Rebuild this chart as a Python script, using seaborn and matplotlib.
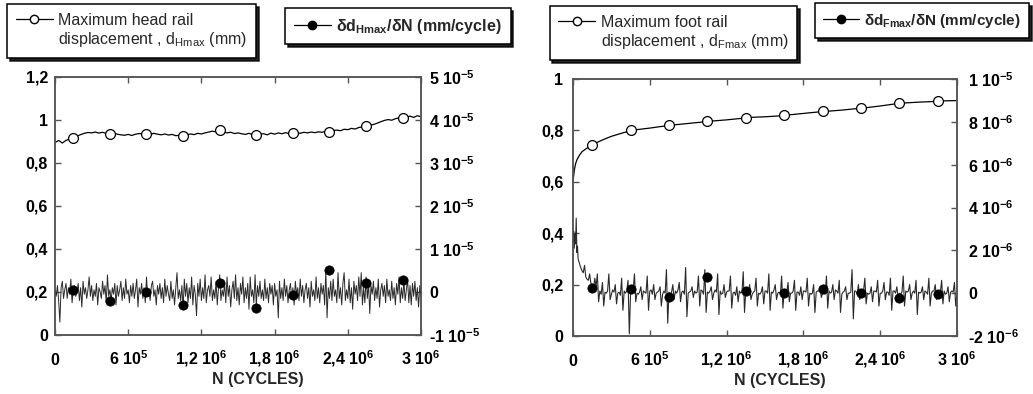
import numpy as np
import pandas as pd
import matplotlib
matplotlib.use("Agg")
import matplotlib.pyplot as plt
import seaborn as sns
from matplotlib.lines import Line2D

# ---------------- data ----------------
# Left panel: head rail displacement (mm), sampled every 3e4 cycles
N_head = np.arange(0, 3e6 + 1, 3e4)
d_head = [0.895, 0.905, 0.893, 0.905, 0.912, 0.918, 0.925, 0.932, 0.938, 0.942,
          0.940, 0.944, 0.939, 0.943, 0.937, 0.935, 0.940, 0.934, 0.931, 0.929,
          0.933, 0.928, 0.934, 0.937, 0.935, 0.936, 0.932, 0.938, 0.934, 0.931,
          0.935, 0.930, 0.933, 0.927, 0.929, 0.926, 0.931, 0.935, 0.932, 0.938,
          0.935, 0.940, 0.944, 0.948, 0.945, 0.952, 0.945, 0.940, 0.943, 0.937,
          0.940, 0.936, 0.933, 0.938, 0.932, 0.930, 0.934, 0.936, 0.931, 0.939,
          0.934, 0.940, 0.936, 0.941, 0.937, 0.939, 0.942, 0.938, 0.943, 0.940,
          0.944, 0.941, 0.945, 0.943, 0.948, 0.947, 0.951, 0.953, 0.950, 0.957,
          0.955, 0.961, 0.958, 0.965, 0.968, 0.972, 0.976, 0.979, 0.985, 0.992,
          0.998, 1.002, 0.999, 1.006, 1.010, 1.008, 1.013, 1.018, 1.012, 1.020,
          1.015]
mark_N = [1.5e5, 4.5e5, 7.5e5, 1.05e6, 1.35e6, 1.65e6, 1.95e6, 2.25e6, 2.55e6, 2.85e6]
mark_head = [0.918, 0.934, 0.934, 0.926, 0.955, 0.929, 0.938, 0.946, 0.974, 1.011]

# Left panel: d(dHmax)/dN in 1e-6 mm/cycle, sampled every 1e4 cycles
N_rate_head = np.arange(0, 3e6 + 1, 1e4)
rate_head_e6 = [
    0.5, -1.0, 1.5, -2.0, -7.0, 1.0, 2.5, -1.5, 0.5, 2.0,
    -1.5, 1.0, -0.5, 3.0, -2.5, 0.5, 1.5, -1.0, 0.0, 2.0,
    -2.0, 1.0, -3.5, 2.5, -0.5, 1.0, -1.5, 0.5, 3.5, -1.0,
    1.5, -2.0, 0.5, -1.0, 2.0, -3.0, 1.0, 0.0, -1.5, 2.5,
    -0.5, 1.5, -2.5, 4.0, -1.0, 0.5, -2.0, 1.0, -0.5, 2.0,
    -3.0, 1.5, -1.0, 0.5, 2.5, -2.0, 1.0, -1.5, 3.0, -0.5,
    0.5, -2.5, 1.5, -1.0, 2.0, -1.5, 0.5, 3.0, -3.5, 1.0,
    -0.5, 2.0, -1.5, 1.0, -2.5, 3.5, -1.0, 0.5, -2.0, 1.5,
    2.5, -1.0, 0.5, -3.0, 1.5, -0.5, 2.0, -1.5, 1.0, -2.5,
    3.0, -1.0, 1.5, -0.5, -2.0, 2.5, -1.5, 0.5, -3.0, 1.0,
    4.5, -1.5, 0.5, -2.0, 1.5, -4.0, 3.0, -1.0, 2.0, -2.5,
    1.0, -1.5, 3.5, -3.0, 1.5, -0.5, -5.5, 2.0, -1.0, 3.0,
    -2.0, 1.0, -1.5, 4.0, -2.5, 0.5, 1.5, -1.0, 3.5, -2.0,
    0.5, -1.5, 2.5, -3.0, 1.0, 4.0, -2.0, 0.5, -1.0, 2.0,
    -2.5, 3.5, -1.0, 1.5, -3.5, 0.5, 2.5, -1.5, 4.0, -2.0,
    1.0, -3.0, 2.0, -0.5, 3.5, -2.5, 1.0, -1.5, 2.0, -4.0,
    3.5, -1.0, 0.5, -2.5, 4.0, -3.0, 1.5, -1.0, 2.5, -1.5,
    0.5, -2.0, 3.0, -1.5, 1.0, -2.5, 2.0, -0.5, 1.5, -3.0,
    2.0, -1.0, 0.5, -6.0, 2.5, -1.5, 1.0, -2.0, 3.0, -1.0,
    1.5, -2.5, 0.5, 2.0, -1.5, 1.0, -3.0, 2.5, -0.5, 1.0,
    -2.0, 3.0, -1.0, 1.5, -2.5, 0.5, 2.0, -1.5, 1.0, -3.5,
    2.5, -1.0, 0.5, -2.0, 3.5, -1.5, 1.0, -2.5, 2.0, -0.5,
    1.5, -3.0, 5.0, -6.0, 1.0, -1.5, 2.5, -2.0, 3.0, -1.0,
    0.5, -2.5, 4.5, -1.5, 1.0, -3.0, 2.0, 4.5, -2.0, 0.5,
    -1.5, 3.0, -2.5, 1.0, -4.0, 2.5, -0.5, 1.5, -2.0, 3.5,
    -1.0, 4.5, -3.0, 1.0, -2.5, 3.5, -1.5, 2.0, -5.0, 1.5,
    -0.5, 2.5, -2.0, 1.0, -1.5, 3.0, -3.5, 0.5, 2.0, -1.0,
    1.5, -2.5, 3.0, -1.0, 0.5, -2.0, 2.5, -1.5, 1.0, -3.0,
    2.0, -0.5, 3.5, -2.5, 1.0, -1.5, 2.5, -2.0, 0.5, 3.0,
    -2.5, 1.5, -3.0, 2.0, -1.0, 2.5, -2.0, 1.0, -3.5, 1.5,
    -1.0]
mark_rate_head_e6 = [0.5, -2.0, 0.0, -3.0, 2.2, -3.8, -0.7, 5.0, 2.2, 2.8]

# Right panel: foot rail displacement (mm)
N_foot = [0, 1e4, 2e4, 3e4, 5e4, 7e4, 1e5, 1.5e5, 2e5, 2.5e5, 3e5,
          4e5, 5e5, 6e5, 7e5, 8e5, 9e5, 1e6, 1.1e6, 1.2e6, 1.3e6, 1.4e6,
          1.5e6, 1.6e6, 1.7e6, 1.8e6, 1.9e6, 2e6, 2.1e6, 2.2e6, 2.3e6,
          2.4e6, 2.5e6, 2.6e6, 2.7e6, 2.8e6, 2.9e6, 3e6]
d_foot = [0.600, 0.645, 0.670, 0.685, 0.703, 0.717, 0.728, 0.743, 0.756, 0.767, 0.777,
          0.792, 0.803, 0.809, 0.816, 0.822, 0.827, 0.832, 0.837, 0.841, 0.846, 0.851,
          0.853, 0.856, 0.861, 0.866, 0.871, 0.875, 0.879, 0.884, 0.889,
          0.895, 0.902, 0.907, 0.910, 0.912, 0.915, 0.916]
mark_foot = [0.744, 0.800, 0.820, 0.835, 0.849, 0.858, 0.874, 0.886, 0.905, 0.914]

# Right panel: d(dFmax)/dN in 1e-6 mm/cycle
N_rate_foot_early = [0, 5e3, 1e4, 1.5e4, 2e4, 2.5e4, 3e4, 3.5e4, 4e4, 5e4, 6e4, 7e4,
                     8e4, 9e4, 1e5, 1.1e5, 1.2e5, 1.3e5, 1.4e5, 1.5e5, 1.6e5, 1.7e5,
                     1.8e5, 1.9e5, 2e5]
N_rate_foot_tail = np.arange(2.1e5, 3e6 + 1, 1e4)
rate_foot_e6 = [
    2.4, 2.9, 2.1, 2.8, 2.3, 3.5, 1.9, 2.2, 1.6, 1.4, 1.2, 1.05,
    0.95, 1.3, 0.75, 0.65, 0.6, 0.9, 0.45, 0.4, 0.2, 0.7, 0.3, 0.9, -0.4,
    # tail, every 1e4 cycles from 2.1e5
    0.10, -0.05, 0.5, -0.6, 0.05,   0.00, 0.10, 0.9, -0.3, -0.05,
    0.15, 0.05, 0.4, -0.5, 0.00,    0.05, -0.10, 0.7, -0.8, 0.10,
    0.00, 0.10, 0.6, -1.9, 0.05,    0.10, 0.15, 0.9, -0.4, 0.00,
    -0.05, 0.05, 0.3, -0.3, 0.10,   0.05, 0.00, 0.8, -0.8, 0.10,
    0.15, -0.05, 0.4, -0.3, 0.00,   0.05, 0.10, 0.3, -0.6, -0.05,
    0.10, 0.00, 1.1, -1.4, 0.05,    -0.10, 0.05, 0.4, -0.3, 0.10,
    0.00, 0.15, 0.5, -0.4, 0.05,    0.10, -0.05, 1.2, -1.1, 0.00,
    0.05, 0.10, 0.3, -0.2, 0.10,    0.00, 0.05, 0.8, -0.6, 0.15,
    0.10, -0.05, 1.1, -0.9, 0.05,   0.00, 0.10, 0.3, -0.3, 0.00,
    0.15, 0.05, 0.9, -1.0, 0.10,    -0.05, 0.00, 0.4, -0.2, 0.05,
    0.10, 0.10, 0.8, -0.7, 0.00,    0.05, -0.10, 0.3, -0.4, 0.10,
    0.00, 0.05, 1.0, -0.9, 0.15,    0.10, 0.00, 0.4, -0.3, -0.05,
    0.05, 0.10, 0.7, -0.6, 0.00,    -0.05, 0.05, 0.3, -0.5, 0.10,
    0.10, 0.00, 0.9, -0.8, 0.05,    0.00, 0.15, 0.4, -0.3, 0.00,
    0.05, -0.05, 0.8, -0.7, 0.10,   0.10, 0.05, 0.5, -0.4, 0.00,
    0.00, 0.10, 0.6, -0.8, 0.05,    0.05, -0.10, 0.3, -0.3, 0.10,
    0.10, 0.05, 0.7, -0.6, 0.00,    -0.05, 0.00, 0.4, -0.9, 0.05,
    0.10, 0.10, 0.3, -0.2, 0.00,    0.05, -0.05, 0.8, -0.7, 0.10,
    0.00, 0.05, 0.4, -0.3, 0.15,    0.10, 0.00, 0.6, -0.9, -0.05,
    0.05, 0.10, 0.3, -0.3, 0.00,    0.00, 0.05, 1.1, -1.2, 0.10,
    0.10, -0.05, 0.4, -0.3, 0.05,   0.05, 0.10, 0.7, -0.5, 0.00,
    -0.05, 0.00, 0.3, -0.4, 0.10,   0.10, 0.05, 0.6, -0.6, 0.00,
    0.00, 0.10, 0.5, -0.3, 0.05,    0.05, -0.10, 0.7, -0.8, 0.10,
    0.10, 0.00, 0.3, -0.2, 0.00,    -0.05, 0.05, 0.8, -0.6, 0.10,
    0.05, 0.10, 0.4, -0.3, 0.00,    0.10, 0.00, 0.6, -1.0, 0.05,
    0.00, 0.05, 0.3, -0.3, 0.10,    0.05, -0.05, 0.7, -0.6, 0.00,
    0.10, 0.10, 0.4, -0.3, 0.05,    0.00, 0.05, 0.6, -0.5, 0.10,
    -0.05, 0.00, 0.3, -0.4, 0.05,   0.10, 0.05, 0.5, -0.6, 0.00]
mark_rate_foot_e6 = [0.25, 0.18, -0.2, 0.77, 0.12, 0.02, 0.18, 0.0, -0.24, -0.05]

# Tick labels
x_ticks = [0, 6e5, 1.2e6, 1.8e6, 2.4e6, 3e6]
x_ticklabels = ["0", "6 10$^{5}$", "1,2 10$^{6}$", "1,8 10$^{6}$", "2,4 10$^{6}$", "3 10$^{6}$"]
yL_ticks = [0, 0.2, 0.4, 0.6, 0.8, 1.0, 1.2]
yL_ticklabels = ["0", "0,2", "0,4", "0,6", "0,8", "1", "1,2"]
yL2_ticks = [-1e-5, 0, 1e-5, 2e-5, 3e-5, 4e-5, 5e-5]
yL2_ticklabels = ["-1 10$^{-5}$", "0", "1 10$^{-5}$", "2 10$^{-5}$", "3 10$^{-5}$",
                  "4 10$^{-5}$", "5 10$^{-5}$"]
yR_ticks = [0, 0.2, 0.4, 0.6, 0.8, 1.0]
yR_ticklabels = ["0", "0,2", "0,4", "0,6", "0,8", "1"]
yR2_ticks = [-2e-6, 0, 2e-6, 4e-6, 6e-6, 8e-6, 1e-5]
yR2_ticklabels = ["-2 10$^{-6}$", "0", "2 10$^{-6}$", "4 10$^{-6}$", "6 10$^{-6}$",
                  "8 10$^{-6}$", "1 10$^{-5}$"]

# ---------------- style ----------------
sns.set_theme(style="ticks")
plt.rcParams['font.family'] = ['Liberation Sans', 'DejaVu Sans']
plt.rcParams['mathtext.default'] = 'regular'

FS = 11.5
SPINE = '#555555'

fig = plt.figure(figsize=(10.33, 3.94), dpi=100)
axL = fig.add_axes([0.05324, 0.14975, 0.35431, 0.65482])
axR = fig.add_axes([0.55470, 0.14721, 0.37173, 0.65228])
axL2 = axL.twinx()
axR2 = axR.twinx()


def style(ax, ax2, yt, ytl, y2t, y2tl, ylim, y2lim, lpad, rpad, xlab_x):
    ax.set_xlim(0, 3e6)
    ax.set_ylim(*ylim)
    ax2.set_ylim(*y2lim)
    ax.set_xticks(x_ticks)
    ax.set_xticklabels(x_ticklabels, fontweight='bold', fontsize=FS)
    ax.set_yticks(yt)
    ax.set_yticklabels(ytl, fontweight='bold', fontsize=FS)
    ax2.set_yticks(y2t)
    ax2.set_yticklabels(y2tl, fontweight='bold', fontsize=FS)
    for a in (ax, ax2):
        for s in a.spines.values():
            s.set_color(SPINE)
            s.set_linewidth(1.1)
    ax.tick_params(axis='x', direction='in', length=4, width=1, color=SPINE,
                   top=True, pad=21.5, labelcolor='black')
    ax.tick_params(axis='y', direction='in', length=4, width=1, color=SPINE,
                   pad=lpad, labelcolor='black')
    ax2.tick_params(axis='y', direction='in', length=4, width=1, color=SPINE,
                    pad=rpad, labelcolor='black')
    for lbl in ax.get_xticklabels():
        lbl.set_verticalalignment('baseline')
    ax.set_xlabel("N (CYCLES)", fontsize=FS, fontweight='bold')
    ax.xaxis.set_label_coords(xlab_x, -0.145)
    ax.set_ylabel("")
    ax2.set_ylabel("")


# ---------------- left panel ----------------
sns.lineplot(x=N_head, y=d_head, ax=axL, color='black', lw=0.9,
             estimator=None, sort=False, legend=False)
sns.scatterplot(x=mark_N, y=mark_head, ax=axL, marker='o', s=50, color='white',
                edgecolor='black', linewidth=0.9, zorder=4, legend=False)
sns.lineplot(x=N_rate_head, y=np.array(rate_head_e6) * 1e-6, ax=axL2, color='#2a2a2a',
             lw=0.7, estimator=None, sort=False, legend=False)
sns.scatterplot(x=mark_N, y=np.array(mark_rate_head_e6) * 1e-6, ax=axL2, marker='o',
                s=45, color='black', edgecolor='black', linewidth=0.5, zorder=4, legend=False)
style(axL, axL2, yL_ticks, yL_ticklabels, yL2_ticks, yL2_ticklabels,
      (0, 1.2), (-1e-5, 5e-5), 5, 6, 0.555)

# ---------------- right panel ----------------
sns.lineplot(x=N_foot, y=d_foot, ax=axR, color='black', lw=0.9,
             estimator=None, sort=False, legend=False)
sns.scatterplot(x=mark_N, y=mark_foot, ax=axR, marker='o', s=50, color='white',
                edgecolor='black', linewidth=0.9, zorder=4, legend=False)
N_rate_foot = np.concatenate([N_rate_foot_early, N_rate_foot_tail])
sns.lineplot(x=N_rate_foot, y=np.array(rate_foot_e6) * 1e-6, ax=axR2, color='#2a2a2a',
             lw=0.8, estimator=None, sort=False, legend=False)
sns.scatterplot(x=mark_N, y=np.array(mark_rate_foot_e6) * 1e-6, ax=axR2, marker='o',
                s=45, color='black', edgecolor='black', linewidth=0.5, zorder=4, legend=False)
style(axR, axR2, yR_ticks, yR_ticklabels, yR2_ticks, yR2_ticklabels,
      (0, 1.0), (-2e-6, 1e-5), 7, 8, 0.539)

# ---------------- legends ----------------
h_open = Line2D([], [], color='black', lw=0.9, marker='o', mfc='white', mec='black', ms=6)
h_fill = Line2D([], [], color='black', lw=0.9, marker='o', mfc='black', mec='black', ms=6)
h_none = Line2D([], [], color='none')


def add_legend(handles, labels, anchor, bold=False, size=FS):
    prop = {'size': size, 'weight': 'bold' if bold else 'normal'}
    leg = fig.legend(handles=handles, labels=labels, loc='upper left',
                     bbox_to_anchor=anchor, bbox_transform=fig.transFigure,
                     frameon=True, fancybox=False, framealpha=1,
                     shadow={'color': 'black', 'alpha': 0.85},
                     edgecolor='black', prop=prop, handlelength=2.3,
                     handletextpad=0.35, labelspacing=0.15, borderpad=0.55,
                     borderaxespad=0)
    leg.get_frame().set_linewidth(1.1)
    return leg


add_legend([h_open, h_none], ["Maximum head rail", "displacement , d$_{Hmax}$ (mm)"],
           (0.0068, 0.99))
add_legend([h_fill], ["δd$_{Hmax}$/δN (mm/cycle)"], (0.276, 0.98), bold=True)
add_legend([h_open, h_none], ["Maximum foot rail", "displacement , d$_{Fmax}$ (mm)"],
           (0.532, 0.985))
add_legend([h_fill], ["δd$_{Fmax}$/δN (mm/cycle)"], (0.789, 0.992), bold=True, size=11)

fig.savefig("out.png", dpi=100)
